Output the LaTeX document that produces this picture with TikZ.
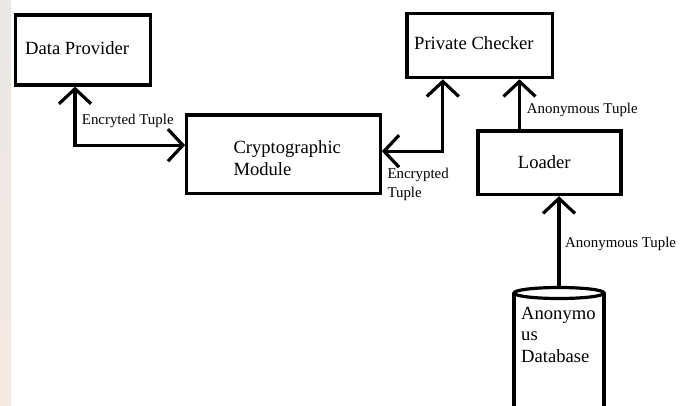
\documentclass[tikz,border=0pt]{standalone}
\usepackage{fontspec}
\setmainfont{Liberation Serif}
\usetikzlibrary{arrows.meta,shapes.geometric}
\newcommand\boxfont{\fontsize{18.6}{21.8}\selectfont}
\newcommand\tagfont{\fontsize{14.9}{18.5}\selectfont}
\begin{document}
\begin{tikzpicture}[x=1pt,y=-1pt,
  box/.style={draw, rectangle, line width=3.2pt, inner sep=0pt},
  boxtext/.style={font=\boxfont, inner sep=0pt, anchor=base west},
  tag/.style={font=\tagfont, inner sep=0pt, anchor=base west},
  conn/.style={draw=black, line width=3.2pt},
  openbarb/.tip={Straight Barb[length=15pt,width=32pt]},
]
\useasboundingbox (0,0) rectangle (691,406);

% pale strip along the left edge
\fill[top color={rgb,255:red,234;green,231;blue,229},
      bottom color={rgb,255:red,246;green,234;blue,226}] (0,0) rectangle (11,406);

% boxes
\node[box, minimum width=135.4pt, minimum height=70pt]   (dp)     at (83,50)      {};
\node[box, minimum width=193.5pt, minimum height=78.3pt] (crypto) at (283.5,154.2) {};
\node[box, minimum width=145.7pt, minimum height=64.4pt] (pc)     at (479.8,45.5) {};
\node[box, minimum width=143pt,   minimum height=63.7pt] (loader) at (549.5,162.8) {};

% box captions
\node[boxtext] (dp-text)     at (25,55)     {Data Provider};
\node[boxtext] (crypto-text) at (233.3,154) {\begin{tabular}[t]{@{}l@{}}Cryptographic\\Module\end{tabular}};
\node[boxtext] (pc-text)     at (414,50)    {Private Checker};
\node[boxtext] (loader-text) at (517.7,168.3) {Loader};

% database cylinder
\node[ellipse, draw, line width=3.2pt, inner sep=0pt, outer sep=0pt,
      minimum width=90pt, minimum height=11pt] (db) at (559,293) {};
\draw[line width=3.2pt] (db.west) -- ++(0,120);
\draw[line width=3.2pt] (db.east) -- ++(0,120);
\node[boxtext] (db-text) at (521,319) {\begin{tabular}[t]{@{}l@{}}Anonymo\\us\\Database\end{tabular}};

% connectors
\draw[conn, {openbarb}-{openbarb}] ([xshift=-8pt]dp.south) |- ([yshift=9pt]crypto.west);
\draw[conn, {openbarb}-{openbarb}] ([yshift=3pt]crypto.east) -| ([xshift=-37pt]pc.south);
\coordinate (lt) at ([xshift=-30pt]loader.north);
\draw[conn, -{openbarb}] (lt) -- (lt |- pc.south);
\draw[conn, -{openbarb}] (db.north) -- (db.north |- loader.south);

% connector labels
\node[tag] (t1) at (81.7,124.3) {Encryted Tuple};
\node[tag] (t2) at (387.3,179)  {\begin{tabular}[t]{@{}l@{}}Encrypted\\Tuple\end{tabular}};
\node[tag] (t3) at (526.7,113.3) {Anonymous Tuple};
\node[tag] (t4) at (565,247.3)  {Anonymous Tuple};
\end{tikzpicture}
\end{document}
